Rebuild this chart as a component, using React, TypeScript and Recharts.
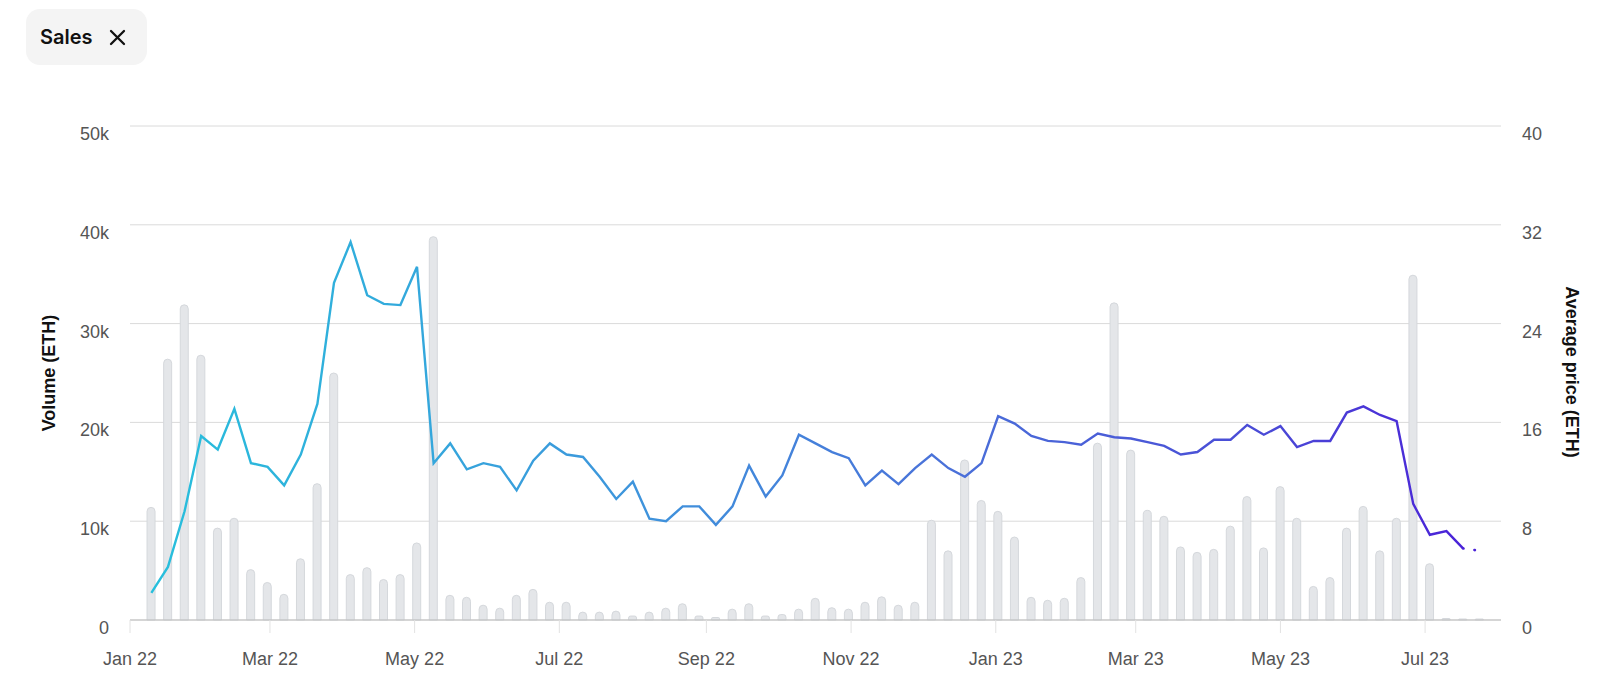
import { Bar, CartesianGrid, ComposedChart, Line, XAxis, YAxis } from "recharts";

// weekly buckets (Mondays)
const weeks = [
  "2022-01-10", "2022-01-17", "2022-01-24", "2022-01-31", "2022-02-07", "2022-02-14", "2022-02-21", "2022-02-28",
  "2022-03-07", "2022-03-14", "2022-03-21", "2022-03-28", "2022-04-04", "2022-04-11", "2022-04-18", "2022-04-25",
  "2022-05-02", "2022-05-09", "2022-05-16", "2022-05-23", "2022-05-30", "2022-06-06", "2022-06-13", "2022-06-20",
  "2022-06-27", "2022-07-04", "2022-07-11", "2022-07-18", "2022-07-25", "2022-08-01", "2022-08-08", "2022-08-15",
  "2022-08-22", "2022-08-29", "2022-09-05", "2022-09-12", "2022-09-19", "2022-09-26", "2022-10-03", "2022-10-10",
  "2022-10-17", "2022-10-24", "2022-10-31", "2022-11-07", "2022-11-14", "2022-11-21", "2022-11-28", "2022-12-05",
  "2022-12-12", "2022-12-19", "2022-12-26", "2023-01-02", "2023-01-09", "2023-01-16", "2023-01-23", "2023-01-30",
  "2023-02-06", "2023-02-13", "2023-02-20", "2023-02-27", "2023-03-06", "2023-03-13", "2023-03-20", "2023-03-27",
  "2023-04-03", "2023-04-10", "2023-04-17", "2023-04-24", "2023-05-01", "2023-05-08", "2023-05-15", "2023-05-22",
  "2023-05-29", "2023-06-05", "2023-06-12", "2023-06-19", "2023-06-26", "2023-07-03", "2023-07-10", "2023-07-17",
  "2023-07-24"
];

// volume, ETH
const volume = [
  11400, 26400, 31900, 26800, 9300, 10300, 5100, 3800, 2600, 6200, 13800, 25000, 4600, 5300, 4100, 4600,
  7800, 38800, 2500, 2300, 1500, 1200, 2500, 3100, 1800, 1800, 800, 800, 900, 400, 800, 1200,
  1650, 400, 250, 1100, 1650, 400, 550, 1100, 2200, 1250, 1100, 1800, 2350, 1500, 1800, 10100,
  7000, 16200, 12100, 11000, 8400, 2300, 2000, 2200, 4300, 17900, 32100, 17200, 11100, 10500, 7400, 6850,
  7150, 9500, 12500, 7300, 13500, 10300, 3400, 4300, 9300, 11500, 7000, 10300, 34900, 5700, 150, 100,
  100
];

// average price, ETH
const avgPrice = [
  2.2, 4.3, 8.8, 14.9, 13.8, 17.1, 12.7, 12.4, 10.9, 13.4, 17.5, 27.3, 30.6, 26.3, 25.6, 25.5,
  28.6, 12.7, 14.3, 12.2, 12.7, 12.4, 10.5, 12.9, 14.3, 13.4, 13.2, 11.6, 9.8, 11.2, 8.2, 8.0,
  9.2, 9.2, 7.7, 9.2, 12.5, 10.0, 11.7, 15.0, 14.3, 13.6, 13.1, 10.9, 12.1, 11.0, 12.3, 13.4,
  12.3, 11.6, 12.7, 16.5, 15.9, 14.9, 14.5, 14.4, 14.2, 15.1, 14.8, 14.7, 14.4, 14.1, 13.4, 13.6,
  14.6, 14.6, 15.8, 15.0, 15.7, 14.0, 14.5, 14.5, 16.8, 17.3, 16.6, 16.1, 9.4, 6.9, 7.2, 5.8,
  5.6
];

// last week is still in progress -> dotted
const partialFrom = 79;

const monthTicks = [
  "2022-01-01", "2022-03-01", "2022-05-01", "2022-07-01", "2022-09-01",
  "2022-11-01", "2023-01-01", "2023-03-01", "2023-05-01", "2023-07-01"
];
const volumeTicks = [0, 10000, 20000, 30000, 40000, 50000];
const priceTicks = [0, 8, 16, 24, 32, 40];
const xDomain = ["2022-01-01", "2023-08-02"];

const monthNames = ["Jan", "Feb", "Mar", "Apr", "May", "Jun", "Jul", "Aug", "Sep", "Oct", "Nov", "Dec"];

const data = weeks.map((w, i) => ({
  t: Date.parse(w),
  volume: volume[i],
  price: i <= partialFrom ? avgPrice[i] : null,
  tail: i >= partialFrom ? avgPrice[i] : null
}));

const tickFont = "'Liberation Sans', Arial, sans-serif";
const tickColor = "#555";

const fmtVolume = (v: number) => (v === 0 ? "0" : `${v / 1000}k`);
const fmtMonth = (t: number) => {
  const d = new Date(t);
  return `${monthNames[d.getUTCMonth()]} ${String(d.getUTCFullYear()).slice(2)}`;
};

function LeftTick({ x, y, payload }: any) {
  return (
    <text x={x} y={y + 14} textAnchor="end" fill={tickColor} fontSize={18} fontFamily={tickFont}>
      {fmtVolume(payload.value)}
    </text>
  );
}

function RightTick({ x, y, payload }: any) {
  return (
    <text x={x} y={y + 14} textAnchor="start" fill={tickColor} fontSize={18} fontFamily={tickFont}>
      {payload.value}
    </text>
  );
}

function DateTick({ x, y, payload }: any) {
  return (
    <text x={x} y={y + 32} textAnchor="middle" fill={tickColor} fontSize={18} fontFamily={tickFont}>
      {fmtMonth(payload.value)}
    </text>
  );
}

const axisTitle = {
  position: "absolute" as const,
  whiteSpace: "nowrap" as const,
  fontFamily: tickFont,
  fontWeight: 700,
  fontSize: 18,
  color: "#111"
};

export default function App() {
  return (
    <div style={{ position: "absolute", left: 0, top: 0, width: 1600, height: 689, background: "#fff" }}>
      <div
        style={{
          position: "absolute",
          left: 26,
          top: 9,
          width: 121,
          height: 56,
          borderRadius: 14,
          background: "#f4f4f4",
          display: "flex",
          alignItems: "center",
          boxSizing: "border-box",
          paddingLeft: 14
        }}
      >
        <span style={{ fontFamily: "Inter, sans-serif", fontWeight: 600, fontSize: 20, color: "#111" }}>Sales</span>
        <svg width={17} height={17} viewBox="0 0 17 17" style={{ marginLeft: 16 }}>
          <path d="M2 2 L15 15 M15 2 L2 15" stroke="#111" strokeWidth={2.3} strokeLinecap="round" />
        </svg>
      </div>

      <ComposedChart width={1600} height={689} data={data} margin={{ top: 126, right: 0, bottom: 0, left: 0 }}>
        <defs>
          <linearGradient id="priceStroke" x1="0" y1="0" x2="1" y2="0">
            <stop offset="0%" stopColor="#27bfdc" />
            <stop offset="35%" stopColor="#3d97dc" />
            <stop offset="60%" stopColor="#4a72d9" />
            <stop offset="85%" stopColor="#4a4ad6" />
            <stop offset="100%" stopColor="#4a22d8" />
          </linearGradient>
        </defs>
        <CartesianGrid yAxisId="vol" vertical={false} stroke="#dadada" />
        <XAxis
          dataKey="t"
          type="number"
          scale="linear"
          domain={xDomain.map((d) => Date.parse(d))}
          ticks={monthTicks.map((d) => Date.parse(d))}
          tick={<DateTick />}
          height={69}
          tickSize={13}
          tickMargin={0}
          axisLine={{ stroke: "#bdbdbd" }}
          tickLine={{ stroke: "#e2e2e2" }}
          allowDataOverflow
        />
        <YAxis
          yAxisId="vol"
          orientation="left"
          domain={[0, 50000]}
          ticks={volumeTicks}
          width={130}
          axisLine={false}
          tickLine={false}
          tickSize={6}
          tickMargin={15}
          tick={<LeftTick />}
        />
        <YAxis
          yAxisId="price"
          orientation="right"
          domain={[0, 40]}
          ticks={priceTicks}
          width={99}
          axisLine={false}
          tickLine={false}
          tickSize={6}
          tickMargin={15}
          tick={<RightTick />}
        />
        <Bar
          yAxisId="vol"
          dataKey="volume"
          barSize={8}
          fill="#e4e6e9"
          stroke="#d5d8dc"
          strokeWidth={1}
          radius={[4, 4, 0, 0]}
          isAnimationActive={false}
        />
        <Line
          yAxisId="price"
          dataKey="price"
          type="linear"
          stroke="url(#priceStroke)"
          strokeWidth={2.4}
          dot={false}
          activeDot={false}
          isAnimationActive={false}
        />
        <Line
          yAxisId="price"
          dataKey="tail"
          type="linear"
          stroke="#4a22d8"
          strokeWidth={2.6}
          strokeDasharray="0.5 11"
          strokeLinecap="round"
          dot={false}
          activeDot={false}
          isAnimationActive={false}
        />
      </ComposedChart>

      <div style={{ ...axisTitle, left: 49, top: 373, transform: "translate(-50%, -50%) rotate(-90deg)" }}>Volume (ETH)</div>
      <div style={{ ...axisTitle, left: 1571, top: 372, transform: "translate(-50%, -50%) rotate(90deg)" }}>
        Average price (ETH)
      </div>
    </div>
  );
}
